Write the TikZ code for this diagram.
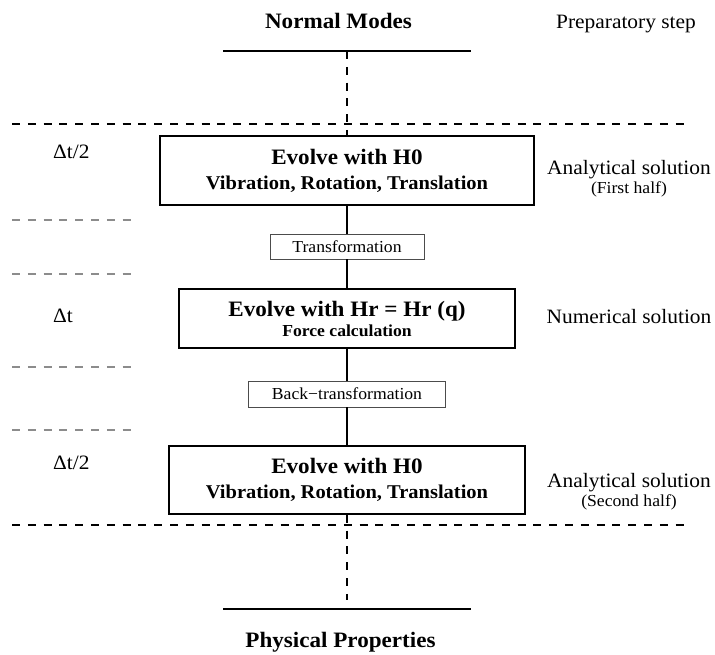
\documentclass[tikz,border=0pt]{standalone}
\usepackage{fontspec}
\setmainfont{Liberation Serif}[FakeStretch=1.05]
\usepackage{tikz}
\usetikzlibrary{positioning}

\begin{document}
\begin{tikzpicture}[x=1pt, y=-1pt,
    title/.style={font=\fontsize{22}{25}\selectfont\bfseries, anchor=base, inner sep=0pt},
    note/.style={font=\fontsize{20.4}{22}\selectfont, anchor=base, inner sep=0pt},
    subnote/.style={font=\fontsize{16.8}{18}\selectfont, anchor=base, inner sep=0pt},
    stage/.style={rectangle, draw, line width=1.6pt, align=center, inner sep=0pt, font=\fontsize{16.8}{20}\selectfont\bfseries},
    xform/.style={rectangle, draw=black!70, line width=0.9pt, inner sep=0pt, minimum height=25pt, font=\fontsize{16.8}{18}\selectfont},
    rule/.style={line width=2pt},
    link/.style={line width=1.3pt},
    level/.style={line width=1.8pt, dash pattern=on 8pt off 7.8pt},
    sublevel/.style={black!45, line width=1.2pt, dash pattern=on 8pt off 7.8pt}]

    \useasboundingbox (0,0) rectangle (715,655);

    % preparatory step
    \node (modes) [title] at (338.5,29) {Normal Modes};
    \node (prep) [note] at (626,29) {Preparatory step};
    \coordinate (modesL) at (223,51);
    \coordinate (modesR) at (471,51);
    \coordinate (modesM) at (347,51);
    \draw [rule] (modesL) -- (modesR);

    % the three stages
    \node (halfA) [stage, minimum width=374pt, minimum height=69pt] at (347,170.5)
        {{\fontsize{22}{20}\selectfont Evolve with H0}\\[5pt]{\fontsize{19.5}{20}\selectfont Vibration, Rotation, Translation}};
    \node (xfwd) [xform, minimum width=154pt] at (347,246.5) {Transformation};
    \node (full) [stage, minimum width=336pt, minimum height=59pt] at (347,318.5)
        {{\fontsize{22}{20}\selectfont Evolve with Hr = Hr (q)}\\Force calculation};
    \node (xback) [xform, minimum width=197pt, minimum height=26pt] at (347,394) {Back−transformation};
    \node (halfB) [stage, minimum width=356pt, minimum height=68pt] at (347,480)
        {{\fontsize{22}{20}\selectfont Evolve with H0}\\[5pt]{\fontsize{19.5}{20}\selectfont Vibration, Rotation, Translation}};

    \draw [link] (halfA) -- (xfwd);
    \draw [link] (xfwd) -- (full);
    \draw [link] (full) -- (xback);
    \draw [link] (xback) -- (halfB);

    % time steps
    \node (dtA) [note, anchor=base west] at (53,159) {Δt/2};
    \node (dt) [note, anchor=base west] at (53,322) {Δt};
    \node (dtB) [note, anchor=base west] at (53,469) {Δt/2};

    \node (anaA) [note] at (629,175) {Analytical solution};
    \node (anaAsub) [subnote] at (629,194) {(First half)};
    \node (num) [note] at (629,323) {Numerical solution};
    \node (anaB) [note] at (629,487) {Analytical solution};
    \node (anaBsub) [subnote] at (629,506) {(Second half)};

    % separators
    \draw [level] (12,124) -- (684,124);
    \draw [level] (12,525) -- (684,525);
    \foreach \y in {220,274,367,430}
        \draw [sublevel] (12,\y) -- (131,\y);

    % final step
    \coordinate (propsM) at (347,600);
    \coordinate (propsL) at (223,609);
    \coordinate (propsR) at (471,609);
    \draw [rule] (propsL) -- (propsR);
    \node (props) [title] at (340.5,647) {Physical Properties};

    \draw [level] (modesM) -- (halfA);
    \draw [level] (halfB) -- (propsM);
\end{tikzpicture}
\end{document}
